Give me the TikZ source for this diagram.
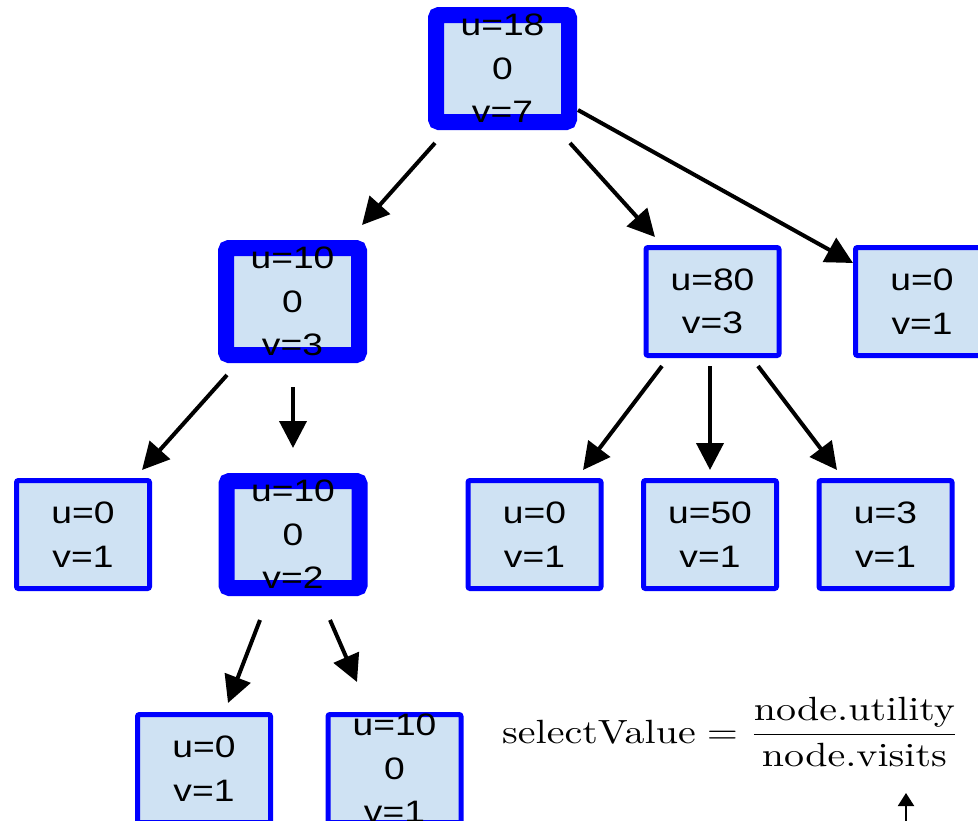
\RequirePackage{fix-cm}
\documentclass[tikz,border=0pt]{standalone}
\usepackage{fontspec}
\usepackage{graphicx}
\newfontfamily\boxfont[FakeStretch=1.2]{Liberation Sans}
\usetikzlibrary{arrows.meta,calc}
\definecolor{boxfill}{HTML}{CFE2F3}
\definecolor{boxblue}{HTML}{0000FF}
\begin{document}
\begin{tikzpicture}[x=1pt,y=-1pt,
  base/.style={fill=boxfill,draw=boxblue,font=\boxfont\fontsize{31}{43.5}\selectfont,align=center,inner xsep=0pt,inner ysep=-15pt},
  thickbox/.style={base,line width=16pt,rounded corners=3pt,minimum width=133pt,minimum height=107pt},
  thinbox/.style={base,line width=5pt,rounded corners=2pt,minimum width=133pt,minimum height=108pt},
  arr/.style={line width=4pt,-{Triangle[length=27pt,width=27pt]}},
]
\useasboundingbox (0,0) rectangle (978,820);
\clip (0,0) rectangle (978,820);

\node[thickbox] (root) at (502.5,68.5) {u=18\\0\\v=7};
\node[thickbox] (A) at (292.5,301.5) {u=10\\0\\v=3};
\node[thickbox] (B) at (293,534.5) {u=10\\0\\v=2};
\node[thinbox] (u80) at (712.5,301.5) {u=80\\v=3};
\node[thinbox] (r0) at (922,301.5) {u=0\\v=1};
\node[thinbox] (l3a) at (83,534.5) {u=0\\v=1};
\node[thinbox] (l3b) at (534.5,534.5) {u=0\\v=1};
\node[thinbox] (l3c) at (710,534.5) {u=50\\v=1};
\node[thinbox] (l3d) at (885.5,534.5) {u=3\\v=1};
\node[thinbox] (l4a) at (204,768.5) {u=0\\v=1};
\node[thinbox] (l4b) at (394.5,768.5) {u=10\\0\\v=1};

\draw[arr] ($(root)+(-67.5,74.5)$) -- ($(A)+(69.5,-76.5)$);
\draw[arr] ($(root)+(67.5,74.5)$) -- ($(u80)+(-57.5,-64.5)$);
\draw[arr] ($(root)+(75.5,41.5)$) -- ($(r0)+(-69,-38.5)$);
\draw[arr] ($(A)+(-65.5,73.5)$) -- ($(l3a)+(59,-64.5)$);
\draw[arr] ($(A)+(0.5,85.5)$) -- ($(B)+(0,-86.5)$);
\draw[arr] ($(u80)+(-50.5,64.5)$) -- ($(l3b)+(48.5,-64.5)$);
\draw[arr] ($(u80)+(-2.5,64.5)$) -- ($(l3c)+(0,-64.5)$);
\draw[arr] ($(u80)+(45.5,64.5)$) -- ($(l3d)+(-48.5,-64.5)$);
\draw[arr] ($(B)+(-33,85.5)$) -- ($(l4a)+(24,-65.5)$);
\draw[arr] ($(B)+(37,85.5)$) -- ($(l4b)+(-37.5,-86.5)$);

\node[anchor=base west,inner sep=0pt] (formula) at (502,743) {\scalebox{4.0}[3.36]{\fontsize{10}{12}\selectfont selectValue${}=\displaystyle\frac{\hbox{node.utility}}{\hbox{node.visits}}$}};

\coordinate (s1) at (906,822);
\coordinate (s2) at (906,793);
\draw[line width=2pt,-{Triangle[length=13pt,width=16pt]}] (s1) -- (s2);
\end{tikzpicture}
\end{document}
